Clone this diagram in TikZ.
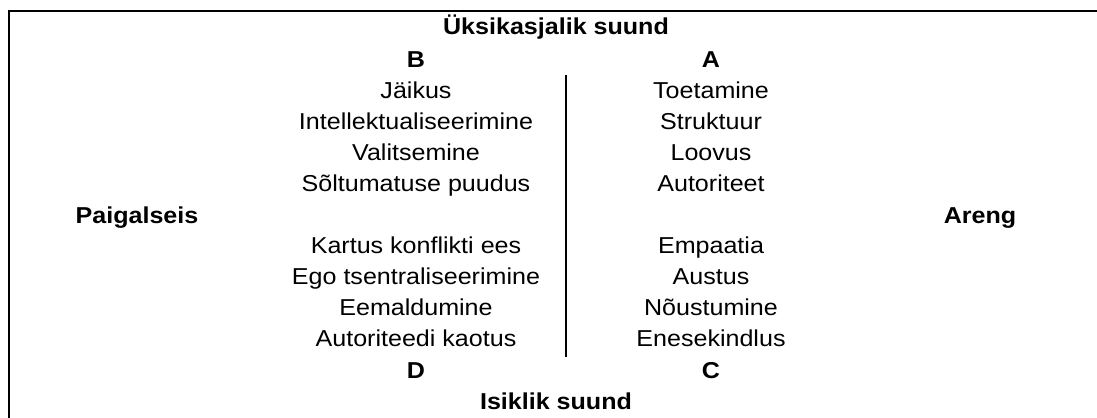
\documentclass[tikz,border=0pt]{standalone}
\usepackage{fontspec}
\setmainfont[FakeStretch=1.09]{Liberation Sans}
\begin{document}
\begin{tikzpicture}[x=1bp,y=-1bp,
  txt/.style={inner sep=0pt,anchor=base,font=\fontsize{23bp}{25bp}\selectfont},
  hd/.style={txt,font=\fontsize{23bp}{25bp}\selectfont\bfseries},
  frame/.style={line width=2bp,black}]
\clip (0,0) rectangle (1097,417);
\fill[white] (0,0) rectangle (1097,417);
\draw[frame] (1120,11.3) -- (9.3,11.3) -- (9.3,440);
% headings
\node[hd] (title) at (556,34.5) {Üksikasjalik suund};
\node[hd] (isik) at (556,409.5) {Isiklik suund};
\node[hd] (paig) at (137,223) {Paigalseis};
\node[hd] (areng) at (980,223) {Areng};
\node[hd] (B) at (416,67) {B};
\node[hd] (A) at (711,67) {A};
\node[hd] (D) at (416,378) {D};
\node[hd] (C) at (711,378) {C};
% left column
\node[txt] (b1) at (416,98) {Jäikus};
\node[txt] (b2) at (416,129.2) {Intellektualiseerimine};
\node[txt] (b3) at (416,160.3) {Valitsemine};
\node[txt] (b4) at (416,191.4) {Sõltumatuse puudus};
\node[txt] (d1) at (416,253.6) {Kartus konflikti ees};
\node[txt] (d2) at (416,284.7) {Ego tsentraliseerimine};
\node[txt] (d3) at (416,315.8) {Eemaldumine};
\node[txt] (d4) at (416,346.9) {Autoriteedi kaotus};
% right column
\node[txt] (a1) at (711,98) {Toetamine};
\node[txt] (a2) at (711,129.2) {Struktuur};
\node[txt] (a3) at (711,160.3) {Loovus};
\node[txt] (a4) at (711,191.4) {Autoriteet};
\node[txt] (c1) at (711,253.6) {Empaatia};
\node[txt] (c2) at (711,284.7) {Austus};
\node[txt] (c3) at (711,315.8) {Nõustumine};
\node[txt] (c4) at (711,346.9) {Enesekindlus};
% divider
\coordinate (vtop) at (566,75);
\coordinate (vbot) at (566,357);
\draw[line width=2bp] (vtop) -- (vbot);
\end{tikzpicture}
\end{document}
